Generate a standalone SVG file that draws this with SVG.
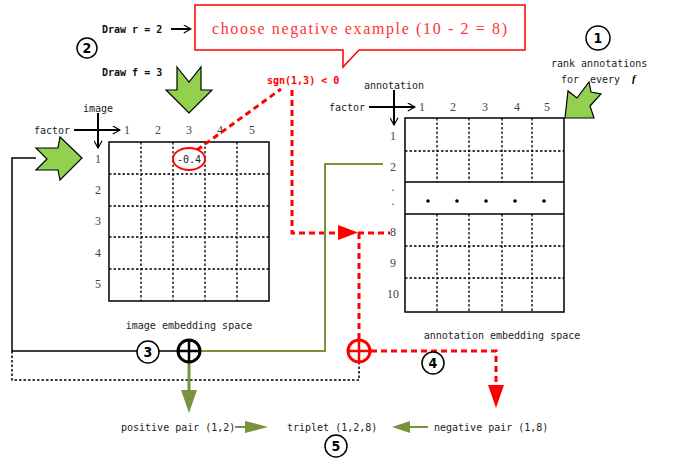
<svg xmlns="http://www.w3.org/2000/svg" width="673" height="462" viewBox="0 0 673 462">
<defs>
<style>
.mono{font-family:"DejaVu Sans Mono","Liberation Mono",monospace;font-size:10px;fill:#222}
.monob{font-family:"DejaVu Sans Mono","Liberation Mono",monospace;font-size:10px;font-weight:bold;fill:#111}
.ser{font-family:"Liberation Serif","DejaVu Serif",serif;font-size:12px;fill:#444;text-anchor:middle}
.num{font-family:"DejaVu Sans Condensed","Liberation Sans Narrow","DejaVu Sans",sans-serif;font-size:14px;font-weight:bold;fill:#000;text-anchor:middle}
.grid{fill:none;stroke:#000;stroke-width:1.5}
.dash{stroke:#000;stroke-width:1.3;stroke-dasharray:2.5 2;fill:none}
.solid{stroke:#000;stroke-width:1.5;fill:none}
.reddash{stroke:#f00;stroke-width:3;stroke-dasharray:6 4;fill:none}
.green{fill:#92D050;stroke:#000;stroke-width:1.2;stroke-linejoin:miter}
.olive{stroke:#77933C;stroke-width:2;fill:none}
.oarrow{stroke:#000;stroke-width:2;fill:none}
.circ{fill:#fff;stroke:#000;stroke-width:1.5}
</style>
<marker id="open" viewBox="0 0 10 10" refX="9" refY="5" markerWidth="9" markerHeight="9" markerUnits="userSpaceOnUse" orient="auto">
<path d="M1,0.5 L9,5 L1,9.5" fill="none" stroke="#000" stroke-width="1.3"/>
</marker>
</defs>
<rect width="673" height="462" fill="#fff"/>

<!-- speech bubble -->
<g id="bubble">
<path d="M195,5 H525 V50 H359 L343,67 V50 H195 Z" fill="#fff" stroke="#f00" stroke-width="1.5"/>
<text x="212" y="34" textLength="295" lengthAdjust="spacing" style="font-family:'Liberation Serif','DejaVu Serif',serif;font-size:16px;fill:#f33">choose negative example (10 - 2 = 8)</text>
</g>

<!-- step labels -->
<g id="step2">
<text class="monob" x="102" y="33">Draw r = 2</text>
<line x1="171" y1="29" x2="191" y2="29" class="oarrow" marker-end="url(#open)"/>
<circle cx="87" cy="48" r="10" class="circ"/>
<text class="num" x="87" y="53">2</text>
<text class="monob" x="102" y="76">Draw f = 3</text>
<polygon class="green" points="177,67 189,82 201,67 201,90 212,90 189,113 166,90 177,90"/>
</g>

<g id="step1">
<circle cx="598" cy="38" r="12" class="circ"/>
<text class="num" x="598" y="43">1</text>
<text class="mono" x="551" y="67">rank annotations</text>
<text class="mono" x="561" y="83">for</text>
<text class="mono" x="590" y="83">every</text>
<text x="632" y="82" style="font-family:'Liberation Serif',serif;font-size:11px;font-style:italic;font-weight:bold">f</text>
<polygon class="green" points="565,118 568,91 577,98 589,82 591,92 601,94 590,106 594,118"/>
</g>

<!-- image embedding table -->
<g id="image-table">
<text class="mono" x="98" y="112" text-anchor="middle">image</text>
<text class="mono" x="70" y="134" text-anchor="end">factor</text>
<line x1="74" y1="130" x2="120" y2="130" class="oarrow" marker-end="url(#open)"/>
<line x1="98" y1="113" x2="98" y2="148" class="oarrow" marker-end="url(#open)"/>
<text class="ser" x="127" y="134">1</text>
<text class="ser" x="158" y="134">2</text>
<text class="ser" x="189" y="134">3</text>
<text class="ser" x="220" y="134">4</text>
<text class="ser" x="252" y="134">5</text>
<text class="ser" x="98" y="163">1</text>
<text class="ser" x="98" y="194">2</text>
<text class="ser" x="98" y="225">3</text>
<text class="ser" x="98" y="257">4</text>
<text class="ser" x="98" y="288">5</text>
<path class="dash" d="M141,142V301 M173,142V301 M205,142V301 M237,142V301 M109,174H269 M109,206H269 M109,237H269 M109,269H269"/>
<rect class="grid" x="109" y="142" width="160" height="159"/>
<text class="mono" x="189" y="329" text-anchor="middle">image embedding space</text>
<polygon class="green" points="36,148 58,148 60,137 82,158 60,180 58,170 36,170 47,159"/>
</g>

<!-- annotation embedding table -->
<g id="annotation-table">
<text class="mono" x="394" y="89" text-anchor="middle">annotation</text>
<text class="mono" x="365" y="111" text-anchor="end">factor</text>
<line x1="369" y1="107" x2="415" y2="107" class="oarrow" marker-end="url(#open)"/>
<line x1="394" y1="90" x2="394" y2="125" class="oarrow" marker-end="url(#open)"/>
<text class="ser" x="422" y="111">1</text>
<text class="ser" x="453" y="111">2</text>
<text class="ser" x="485" y="111">3</text>
<text class="ser" x="517" y="111">4</text>
<text class="ser" x="547" y="111">5</text>
<text class="ser" x="393" y="140">1</text>
<text class="ser" x="393" y="171">2</text>
<text class="ser" x="393" y="191">.</text>
<text class="ser" x="393" y="205">.</text>
<text class="ser" x="393" y="236">8</text>
<text class="ser" x="393" y="267">9</text>
<text class="ser" x="393" y="298">10</text>
<path class="dash" d="M437,118V182 M469,118V182 M502,118V182 M532,118V182 M437,214V312 M469,214V312 M502,214V312 M532,214V312 M405,151H564 M405,246H564 M405,278H564"/>
<path class="solid" d="M405,182H564 M405,214H564"/>
<rect class="grid" x="405" y="118" width="159" height="194"/>
<circle cx="428" cy="201" r="1.8"/>
<circle cx="457" cy="201" r="1.8"/>
<circle cx="486" cy="201" r="1.8"/>
<circle cx="515" cy="201" r="1.8"/>
<circle cx="544" cy="201" r="1.8"/>
<text class="mono" x="502" y="339" text-anchor="middle">annotation embedding space</text>
</g>

<!-- connectors -->
<g id="connectors">
<text x="267" y="84" style="font-family:'DejaVu Sans Mono',monospace;font-size:10px;font-weight:bold;fill:#f00">sgn(1,3) &lt; 0</text>
<path class="reddash" d="M197,150 L281,89"/>
<path class="reddash" d="M292,90 V233 H340"/>
<polygon points="338,225 358,232.5 338,240" fill="#f00"/>
<path class="reddash" d="M358,233 H390"/>
<path class="reddash" d="M359,233 V339"/>
<path class="olive" d="M383,164 H325 V351 H201"/>
<path class="solid" d="M36,158 H12 V351 H178"/>
<path class="dash" d="M12,351 V380 H359 V363" style="stroke-width:1.5"/>
<path class="reddash" d="M371,351 H496 V385"/>
<polygon points="488,385 504,385 496,408" fill="#f00"/>
<line x1="189" y1="363" x2="189" y2="391" stroke="#77933C" stroke-width="3"/>
<polygon points="181,390 197,390 189,413" fill="#77933C"/>
<line x1="235" y1="427" x2="247" y2="427" stroke="#77933C" stroke-width="2"/>
<polygon points="245,421 245,433 268,427" fill="#77933C"/>
<line x1="408" y1="427" x2="428" y2="427" stroke="#77933C" stroke-width="2"/>
<polygon points="410,421 410,433 392,427" fill="#77933C"/>
</g>

<g id="value-cell">
<ellipse cx="189" cy="159" rx="16" ry="11" fill="#fff" stroke="#f00" stroke-width="1.8"/>
<text class="mono" x="189" y="163" text-anchor="middle">-0.4</text>
</g>
<g id="plus-black">
<circle cx="189" cy="351" r="11" fill="#fff" stroke="#000" stroke-width="3"/>
<path d="M178,351H200 M189,340V362" stroke="#000" stroke-width="2.5"/>
</g>
<g id="plus-red">
<circle cx="359" cy="351" r="11" fill="#fff" stroke="#f00" stroke-width="3"/>
<path d="M348,351H370 M359,340V362" stroke="#f00" stroke-width="2.5"/>
</g>
<g id="step3">
<circle cx="148" cy="352" r="11" class="circ"/>
<text class="num" x="148" y="357">3</text>
</g>
<g id="step4">
<circle cx="433" cy="363" r="11" class="circ"/>
<text class="num" x="433" y="368">4</text>
</g>

<g id="pairs">
<text class="mono" x="121" y="431">positive pair (1,2)</text>
<text class="mono" x="287" y="431">triplet (1,2,8)</text>
<text class="mono" x="434" y="431">negative pair (1,8)</text>
</g>
<g id="step5">
<circle cx="336" cy="446" r="11" class="circ"/>
<text class="num" x="336" y="451">5</text>
</g>
</svg>
